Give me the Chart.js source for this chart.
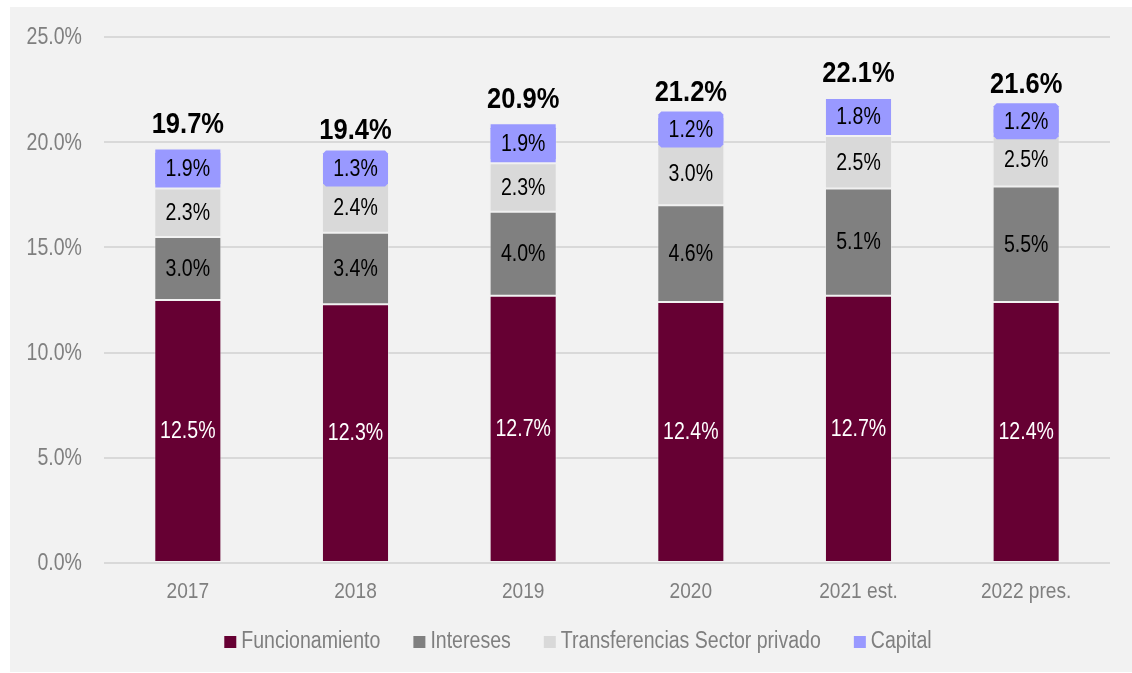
<!DOCTYPE html>
<html>
<head>
<meta charset="utf-8">
<script src="https://cdn.jsdelivr.net/npm/chart.js@4.4.1/dist/chart.umd.min.js"></script>
<style>
  html, body { margin: 0; padding: 0; background: #ffffff; }
  #wrap { width: 1132px; height: 673px; position: relative; }
</style>
</head>
<body>
<div id="wrap"><canvas id="c" width="1132" height="673"></canvas></div>
<script>
// Gasto como % del PIB, por componente
const categories = ['2017', '2018', '2019', '2020', '2021 est.', '2022 pres.'];
const funcionamiento = [12.5, 12.3, 12.7, 12.4, 12.7, 12.4];
const intereses = [3.0, 3.4, 4.0, 4.6, 5.1, 5.5];
const transferencias = [2.3, 2.4, 2.3, 3.0, 2.5, 2.5];
const capital = [1.9, 1.3, 1.9, 1.2, 1.8, 1.2];
const seriesNames = ['Funcionamiento', 'Intereses', 'Transferencias Sector privado', 'Capital'];
const seriesColors = ['#660033', '#808080', '#d9d9d9', '#9999ff'];
const labelColors = ['#ffffff', '#000000', '#000000', '#000000'];
const yMin = 0, yMax = 25, yStep = 5;

const FONT = "'Liberation Sans', Arial, sans-serif";
const GREY_TEXT = '#7f7f7f';
const SQUEEZE = 0.85; // condensed look for all chart text

// draws text horizontally condensed around its anchor point
function narrowText(ctx, text, x, y, font, color, align) {
  ctx.save();
  ctx.font = font;
  ctx.fillStyle = color;
  ctx.textAlign = align || 'center';
  ctx.textBaseline = 'middle';
  ctx.translate(x, y);
  ctx.scale(SQUEEZE, 1);
  ctx.fillText(text, 0, 0);
  ctx.restore();
}

function narrowWidth(ctx, text, font) {
  ctx.save();
  ctx.font = font;
  const w = ctx.measureText(text).width * SQUEEZE;
  ctx.restore();
  return w;
}

const backgroundPlugin = {
  id: 'panelBackground',
  beforeDraw(chart) {
    const ctx = chart.ctx;
    ctx.save();
    ctx.fillStyle = '#ffffff';
    ctx.fillRect(0, 0, chart.width, chart.height);
    ctx.fillStyle = '#f2f2f2';
    ctx.fillRect(10, 7, chart.width - 10, chart.height - 8);
    ctx.restore();
  }
};

const axisTextPlugin = {
  id: 'axisText',
  afterDraw(chart) {
    const ctx = chart.ctx;
    const xs = chart.scales.x, ys = chart.scales.y;
    const tickFont = '23px ' + FONT;
    ys.ticks.forEach(t => {
      narrowText(ctx, t.value.toFixed(1) + '%', chart.chartArea.left - 22, ys.getPixelForValue(t.value) + 1, tickFont, GREY_TEXT, 'right');
    });
    chart.data.labels.forEach((lab, i) => {
      narrowText(ctx, lab, xs.getPixelForValue(i), chart.chartArea.bottom + 29, '22.5px ' + FONT, GREY_TEXT, 'center');
    });
  }
};

function roundedBox(ctx, x, y, w, h, c) {
  ctx.beginPath();
  ctx.moveTo(x + c, y);
  ctx.lineTo(x + w - c, y);
  ctx.lineTo(x + w, y + c);
  ctx.lineTo(x + w, y + h - c);
  ctx.lineTo(x + w - c, y + h);
  ctx.lineTo(x + c, y + h);
  ctx.lineTo(x, y + h - c);
  ctx.lineTo(x, y + c);
  ctx.closePath();
}

const valueLabelPlugin = {
  id: 'valueLabels',
  afterDatasetsDraw(chart) {
    const ctx = chart.ctx;
    const n = chart.data.labels.length;
    chart.data.datasets.forEach((ds, di) => {
      const meta = chart.getDatasetMeta(di);
      meta.data.forEach((bar, i) => {
        const p = bar.getProps(['x', 'y', 'base'], true);
        const cy = (p.y + p.base) / 2;
        if (di === 3) {
          ctx.save();
          ctx.fillStyle = seriesColors[3];
          roundedBox(ctx, p.x - 32.5, cy - 18, 65, 36, 3);
          ctx.fill();
          ctx.restore();
        }
        narrowText(ctx, ds.data[i].toFixed(1) + '%', p.x, cy + 1, '23px ' + FONT, labelColors[di], 'center');
      });
    });
    // totals above each stack
    const lastMeta = chart.getDatasetMeta(chart.data.datasets.length - 1);
    for (let i = 0; i < n; i++) {
      let total = 0;
      chart.data.datasets.forEach(ds => { total += ds.data[i]; });
      const top = lastMeta.data[i].getProps(['x', 'y'], true);
      narrowText(ctx, total.toFixed(1) + '%', top.x, top.y - 24, 'bold 30px ' + FONT, '#000000', 'center');
    }
  }
};

const legendPlugin = {
  id: 'bottomLegend',
  afterDraw(chart) {
    const ctx = chart.ctx;
    const font = '23px ' + FONT;
    const box = 12, gap = 5, itemGap = 33;
    const items = chart.data.datasets.map(ds => ({ text: ds.label, color: ds.backgroundColor, w: narrowWidth(ctx, ds.label, font) }));
    let total = 0;
    items.forEach((it, k) => { total += box + gap + it.w + (k < items.length - 1 ? itemGap : 0); });
    let x = 578 - total / 2;
    const y = 642;
    items.forEach(it => {
      ctx.save();
      ctx.fillStyle = it.color;
      ctx.fillRect(x, y - box / 2, box, box);
      ctx.restore();
      x += box + gap;
      narrowText(ctx, it.text, x, y, font, GREY_TEXT, 'left');
      x += it.w + itemGap;
    });
  }
};

const seriesData = [funcionamiento, intereses, transferencias, capital];

new Chart(document.getElementById('c'), {
  type: 'bar',
  data: {
    labels: categories,
    datasets: seriesData.map((d, k) => ({
      label: seriesNames[k],
      data: d,
      backgroundColor: seriesColors[k],
      borderColor: 'rgba(242,242,242,0.5)',
      borderWidth: 1,
      borderSkipped: false,
      barPercentage: 0.4,
      categoryPercentage: 1.0
    }))
  },
  options: {
    responsive: false,
    animation: false,
    devicePixelRatio: 1,
    layout: { padding: { left: 26, right: 22, top: 37, bottom: 72 } },
    plugins: {
      legend: { display: false },
      tooltip: { enabled: false }
    },
    scales: {
      x: {
        stacked: true,
        grid: { display: false, drawTicks: false },
        border: { display: false },
        ticks: { color: 'rgba(0,0,0,0)', font: { family: FONT, size: 10 } },
        afterFit(scale) { scale.height = 38; }
      },
      y: {
        stacked: true,
        min: yMin,
        max: yMax,
        grid: { color: '#d9d9d9', lineWidth: 2, drawTicks: false },
        border: { display: false },
        ticks: {
          stepSize: yStep,
          color: 'rgba(0,0,0,0)',
          font: { family: FONT, size: 10 },
          callback: v => v.toFixed(1) + '%'
        },
        afterFit(scale) { scale.width = 78; }
      }
    }
  },
  plugins: [backgroundPlugin, valueLabelPlugin, axisTextPlugin, legendPlugin]
});
</script>
</body>
</html>
